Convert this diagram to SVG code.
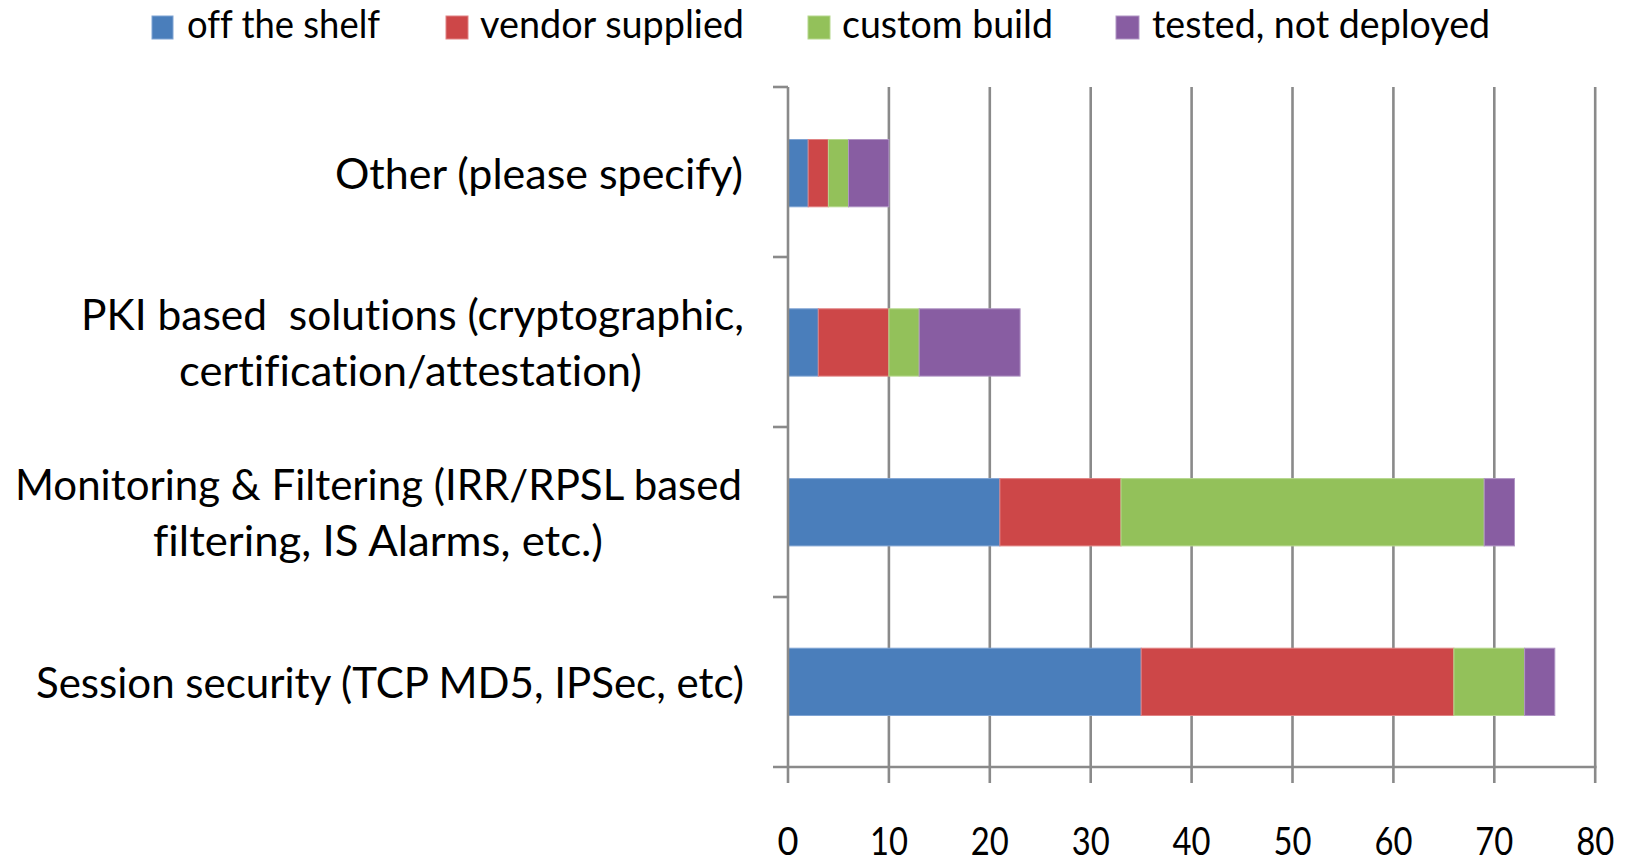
<svg xmlns="http://www.w3.org/2000/svg" width="1630" height="861" viewBox="0 0 1630 861">
  <style>
    text { font-family: Lato, "Liberation Sans", "DejaVu Sans", sans-serif; fill: #000; font-variant-ligatures: none; }
    .lbl { font-size: 43px; }
    .leg { font-size: 39px; }
    .num { font-size: 39px; text-anchor: middle; }
    .grid { stroke: #8a8a8a; stroke-width: 2.6; fill: none; }
    .s1 { fill: #4a7ebb; stroke: #7fa4d3; stroke-width: 1; }
    .s2 { fill: #cd4748; stroke: #e08283; stroke-width: 1; }
    .s3 { fill: #93c15a; stroke: #b6d78e; stroke-width: 1; }
    .s4 { fill: #885da2; stroke: #b095c4; stroke-width: 1; }
  </style>

  <rect width="1630" height="861" fill="#ffffff"/>

  <!-- legend -->
  <g id="legend">
    <rect class="s1" x="152" y="16" width="21" height="23"/>
    <text class="leg" x="187" y="38" textLength="193" lengthAdjust="spacingAndGlyphs">off the shelf</text>
    <rect class="s2" x="446" y="16" width="22" height="23"/>
    <text class="leg" x="480" y="38" textLength="264" lengthAdjust="spacingAndGlyphs">vendor supplied</text>
    <rect class="s3" x="808" y="16" width="22" height="23"/>
    <text class="leg" x="842" y="38" textLength="211" lengthAdjust="spacingAndGlyphs">custom build</text>
    <rect class="s4" x="1116" y="16" width="23" height="23"/>
    <text class="leg" x="1152" y="38" textLength="338" lengthAdjust="spacingAndGlyphs">tested, not deployed</text>
  </g>

  <!-- vertical gridlines, every 10 units (10.09 px per unit) -->
  <g id="gridlines" class="grid">
    <line x1="888.9" y1="87" x2="888.9" y2="783"/>
    <line x1="989.8" y1="87" x2="989.8" y2="783"/>
    <line x1="1090.7" y1="87" x2="1090.7" y2="783"/>
    <line x1="1191.6" y1="87" x2="1191.6" y2="783"/>
    <line x1="1292.5" y1="87" x2="1292.5" y2="783"/>
    <line x1="1393.4" y1="87" x2="1393.4" y2="783"/>
    <line x1="1494.3" y1="87" x2="1494.3" y2="783"/>
    <line x1="1595.2" y1="87" x2="1595.2" y2="783"/>
  </g>

  <!-- stacked bars -->
  <g id="bar-other">
    <rect class="s1" x="788" y="139.5" width="20.2" height="67.3"/>
    <rect class="s2" x="808.2" y="139.5" width="20.2" height="67.3"/>
    <rect class="s3" x="828.4" y="139.5" width="20.1" height="67.3"/>
    <rect class="s4" x="848.5" y="139.5" width="40.4" height="67.3"/>
  </g>
  <g id="bar-pki">
    <rect class="s1" x="788" y="308.8" width="30.3" height="67.3"/>
    <rect class="s2" x="818.3" y="308.8" width="70.6" height="67.3"/>
    <rect class="s3" x="888.9" y="308.8" width="30.3" height="67.3"/>
    <rect class="s4" x="919.2" y="308.8" width="100.9" height="67.3"/>
  </g>
  <g id="bar-monitoring">
    <rect class="s1" x="788" y="478.6" width="211.9" height="67.3"/>
    <rect class="s2" x="999.9" y="478.6" width="121.1" height="67.3"/>
    <rect class="s3" x="1121" y="478.6" width="363.2" height="67.3"/>
    <rect class="s4" x="1484.2" y="478.6" width="30.3" height="67.3"/>
  </g>
  <g id="bar-session">
    <rect class="s1" x="788" y="648.2" width="353.2" height="67.3"/>
    <rect class="s2" x="1141.2" y="648.2" width="312.7" height="67.3"/>
    <rect class="s3" x="1453.9" y="648.2" width="70.7" height="67.3"/>
    <rect class="s4" x="1524.6" y="648.2" width="30.2" height="67.3"/>
  </g>

  <!-- axes with tick marks -->
  <g id="axes" class="grid">
    <line x1="788" y1="87" x2="788" y2="783"/>
    <line x1="773" y1="767" x2="1596.5" y2="767"/>
    <line x1="773" y1="87" x2="788" y2="87"/>
    <line x1="773" y1="257" x2="788" y2="257"/>
    <line x1="773" y1="427" x2="788" y2="427"/>
    <line x1="773" y1="597" x2="788" y2="597"/>
  </g>

  <!-- category labels -->
  <g id="label-other">
    <text class="lbl" x="335" y="189" textLength="408" lengthAdjust="spacingAndGlyphs">Other (please specify)</text>
  </g>
  <g id="label-pki">
    <text class="lbl" x="81" y="330" textLength="663" lengthAdjust="spacingAndGlyphs" xml:space="preserve">PKI based  solutions (cryptographic,</text>
    <text class="lbl" x="179" y="386" textLength="463" lengthAdjust="spacingAndGlyphs">certification/attestation)</text>
  </g>
  <g id="label-monitoring">
    <text class="lbl" x="15" y="500" textLength="727" lengthAdjust="spacingAndGlyphs">Monitoring &amp; Filtering (IRR/RPSL based</text>
    <text class="lbl" x="153" y="556" textLength="450" lengthAdjust="spacingAndGlyphs">filtering, IS Alarms, etc.)</text>
  </g>
  <g id="label-session">
    <text class="lbl" x="36" y="698" textLength="708" lengthAdjust="spacingAndGlyphs">Session security (TCP MD5, IPSec, etc)</text>
  </g>

  <!-- value axis numbers -->
  <g id="axis-numbers">
    <text class="num" x="788" y="855" textLength="21" lengthAdjust="spacingAndGlyphs">0</text>
    <text class="num" x="888.9" y="855" textLength="38" lengthAdjust="spacingAndGlyphs">10</text>
    <text class="num" x="989.8" y="855" textLength="38" lengthAdjust="spacingAndGlyphs">20</text>
    <text class="num" x="1090.7" y="855" textLength="38" lengthAdjust="spacingAndGlyphs">30</text>
    <text class="num" x="1191.6" y="855" textLength="38" lengthAdjust="spacingAndGlyphs">40</text>
    <text class="num" x="1292.5" y="855" textLength="38" lengthAdjust="spacingAndGlyphs">50</text>
    <text class="num" x="1393.4" y="855" textLength="38" lengthAdjust="spacingAndGlyphs">60</text>
    <text class="num" x="1494.3" y="855" textLength="38" lengthAdjust="spacingAndGlyphs">70</text>
    <text class="num" x="1595.2" y="855" textLength="38" lengthAdjust="spacingAndGlyphs">80</text>
  </g>
</svg>
